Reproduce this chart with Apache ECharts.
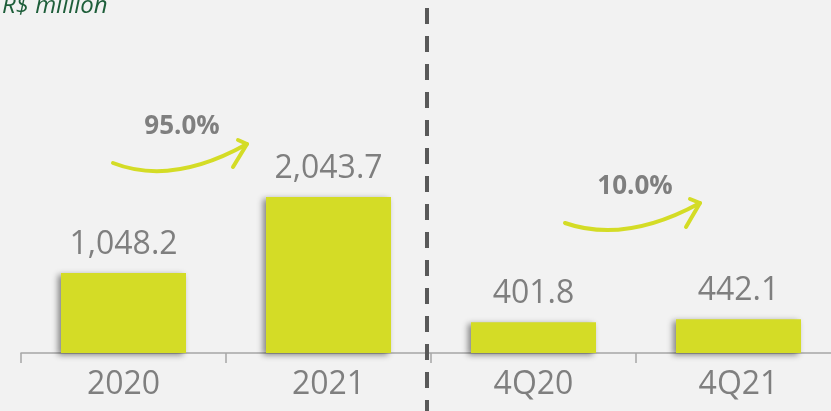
<!DOCTYPE html>
<html>
<head>
<meta charset="utf-8">
<script src="https://cdn.jsdelivr.net/npm/echarts@6/dist/echarts.min.js"></script>
<style>
html,body{margin:0;padding:0;background:#f2f2f2;}
#c{width:831px;height:411px;}
</style>
</head>
<body>
<div id="c"></div>
<script>
const categories = ['2020', '2021', '4Q20', '4Q21'];
const values = [1048.2, 2043.7, 401.8, 442.1];
const growthLabels = ['95.0%', '10.0%'];
const unitLabel = 'R$ million';

const chart = echarts.init(document.getElementById('c'), null, {renderer: 'canvas'});
const barColor = '#d4dc26';
const grey = '#7f7f7f';
const font = '"Open Sans", "Noto Sans", sans-serif';

function arrow(x0, y0, cx, cy, x1, y1, h1, h2) {
  return [
    {type: 'bezierCurve', shape: {x1: x0, y1: y0, cpx1: cx, cpy1: cy, x2: x1, y2: y1},
     style: {stroke: barColor, lineWidth: 4, fill: null, lineCap: 'round'}, z: 10},
    {type: 'polyline', shape: {points: [h1, [x1, y1], h2]},
     style: {stroke: barColor, lineWidth: 4, fill: null, lineCap: 'round', lineJoin: 'round'}, z: 10}
  ];
}

const option = {
  backgroundColor: '#f2f2f2',
  animation: false,
  grid: {left: 21, width: 820, top: 47.7, height: 305.3, outerBoundsMode: 'none', containLabel: false},
  xAxis: {
    type: 'category',
    data: categories,
    axisLine: {lineStyle: {color: '#a6a6a6', width: 1.5}},
    axisTick: {show: true, length: 10, lineStyle: {color: '#a6a6a6', width: 1.5}},
    axisLabel: {color: grey, fontSize: 32, fontFamily: font, margin: 16}
  },
  yAxis: {
    type: 'value', min: 0, max: 4000, show: false,
    splitLine: {show: false}
  },
  series: [{
    type: 'bar',
    data: values,
    barWidth: 125,
    itemStyle: {
      color: barColor,
      shadowColor: 'rgba(0,0,0,0.45)', shadowBlur: 6, shadowOffsetX: -3, shadowOffsetY: 2
    },
    label: {
      show: true, position: 'top', distance: 12,
      color: grey, fontSize: 32, fontFamily: font,
      formatter: p => p.value.toLocaleString('en-US', {minimumFractionDigits: 1, maximumFractionDigits: 1})
    }
  }],
  graphic: [
    {type: 'text', left: 2, top: -6, style: {text: unitLabel, font: 'italic 24px ' + font, fill: '#1e5e3a'}},
    {type: 'line', shape: {x1: 427, y1: 0, x2: 427, y2: 411},
     style: {stroke: '#595959', lineWidth: 4, lineDash: [16, 12], lineDashOffset: 20}, z: 20},
    {type: 'text', x: 182, y: 127, style: {text: growthLabels[0], font: 'bold 26px ' + font, fill: grey, align: 'center', verticalAlign: 'middle'}},
    {type: 'text', x: 635, y: 187, style: {text: growthLabels[1], font: 'bold 26px ' + font, fill: grey, align: 'center', verticalAlign: 'middle'}},
    ...arrow(113, 163, 172, 186, 247, 144, [238, 140], [233, 167]),
    ...arrow(565, 223, 625, 244, 700, 203, [690, 199], [686, 227])
  ]
};
chart.setOption(option);
</script>
</body>
</html>
